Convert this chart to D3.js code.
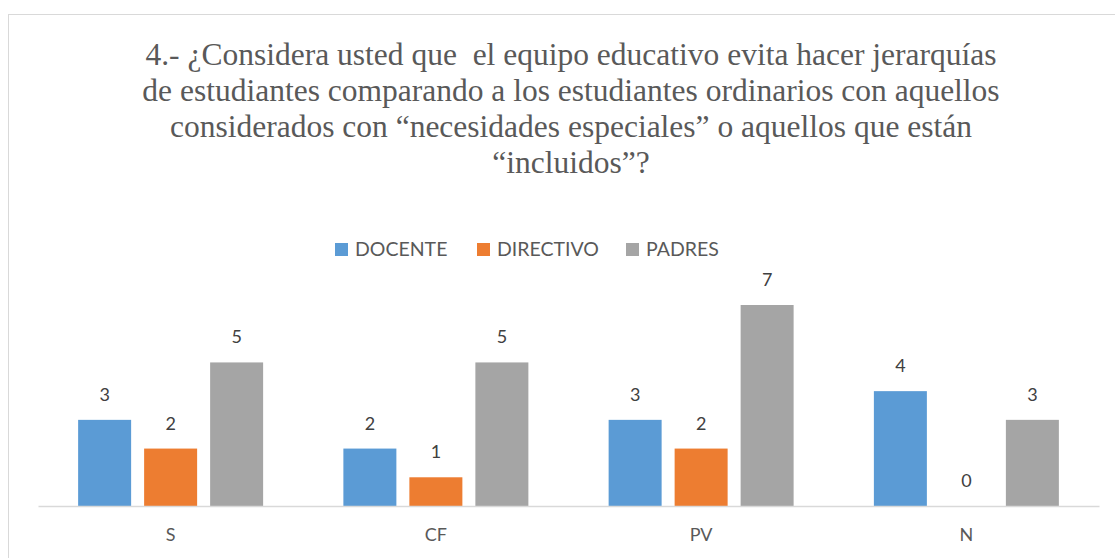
<!DOCTYPE html>
<html><head><meta charset="utf-8">
<script src="https://cdn.jsdelivr.net/npm/d3@7"></script>
<style>html,body{margin:0;padding:0;background:#fff;overflow:hidden}</style>
</head><body>
<svg id="c" width="1115" height="558"></svg>
<script>
const categories = ["S", "CF", "PV", "N"];
const seriesNames = ["DOCENTE", "DIRECTIVO", "PADRES"];
const docente = [3, 2, 3, 4];
const directivo = [2, 1, 2, 0];
const padres = [5, 5, 7, 3];
const seriesColors = ["#5b9bd5", "#ed7d31", "#a5a5a5"];
const titleLines = [
  "4.- ¿Considera usted que  el equipo educativo evita hacer jerarquías",
  "de estudiantes comparando a los estudiantes ordinarios con aquellos",
  "considerados con “necesidades especiales” o aquellos que están",
  "“incluidos”?"
];

const values = [docente, directivo, padres];
const svg = d3.select("#c");

svg.append("rect").attr("x", 8.5).attr("y", 14.5).attr("width", 1130).attr("height", 560)
  .attr("fill", "#fff").attr("stroke", "#d9d9d9").attr("stroke-width", 1);

// title
svg.append("g").selectAll("text").data(titleLines).join("text")
  .attr("x", 571).attr("y", (d, i) => 65 + i * 36)
  .attr("text-anchor", "middle")
  .style("white-space", "pre")
  .attr("font-family", "'Liberation Serif','Times New Roman',serif")
  .attr("font-size", 31.5).attr("fill", "#595959")
  .text(d => d);

const x0 = d3.scaleBand().domain(categories).range([38, 1099]).padding(0);
const x1 = d3.scaleBand().domain(seriesNames).range([0, x0.bandwidth()])
  .paddingInner(0.197).paddingOuter(0.608);
const y = d3.scaleLinear().domain([0, 7]).range([506, 305]);

const g = svg.append("g");
seriesNames.forEach((s, si) => {
  const gs = g.append("g");
  gs.selectAll("rect").data(categories).join("rect")
    .attr("x", c => x0(c) + x1(s))
    .attr("y", (c, ci) => y(values[si][ci]))
    .attr("width", x1.bandwidth())
    .attr("height", (c, ci) => y(0) - y(values[si][ci]))
    .attr("fill", seriesColors[si]);
  gs.selectAll("text").data(categories).join("text")
    .attr("x", c => x0(c) + x1(s) + x1.bandwidth() / 2)
    .attr("y", (c, ci) => y(values[si][ci]) - 19)
    .attr("text-anchor", "middle")
    .attr("font-family", "Lato,'Open Sans',sans-serif")
    .attr("font-size", 18).attr("fill", "#404040")
    .text((c, ci) => values[si][ci]);
});

// axis
const ax = svg.append("g").attr("transform", "translate(0,506)")
  .call(d3.axisBottom(x0).tickSize(0).tickPadding(22));
ax.select(".domain").attr("stroke", "#d9d9d9").attr("stroke-width", 1.5);
ax.selectAll("text").attr("font-family", "Lato,'Open Sans',sans-serif")
  .attr("font-size", 18).attr("fill", "#595959");

// legend
const legX = [335, 477, 626];
const lg = svg.append("g").selectAll("g").data(seriesNames).join("g")
  .attr("transform", (d, i) => `translate(${legX[i]},243)`);
lg.append("rect").attr("width", 13).attr("height", 13).attr("fill", (d, i) => seriesColors[i]);
lg.append("text").attr("x", 20).attr("y", 13)
  .attr("font-family", "Lato,'Open Sans',sans-serif")
  .attr("font-size", 19.5).attr("fill", "#595959").text(d => d);
</script>
</body></html>
